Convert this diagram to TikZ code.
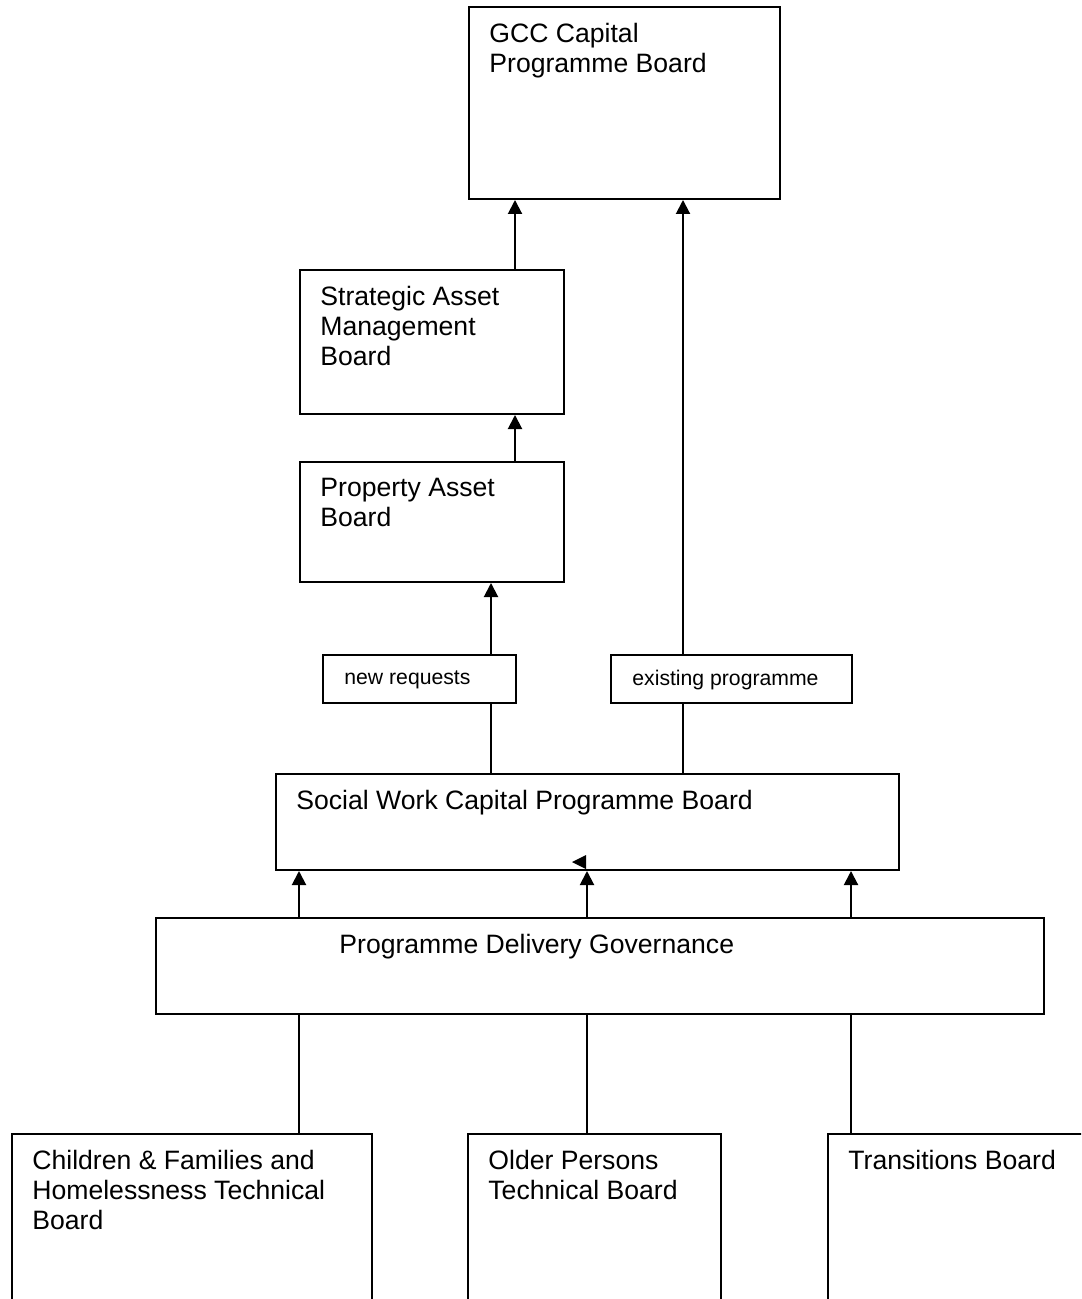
\documentclass[tikz,border=0pt]{standalone}
\usepackage{fontspec}
\setmainfont{Liberation Sans}
\usetikzlibrary{arrows.meta}
\newcommand\boardfont{\fontsize{13.3}{15}\selectfont}
\newcommand\tagfont{\fontsize{10.6}{12}\selectfont}
\tikzset{
  board/.style={draw, rectangle, line width=1pt, inner sep=0pt, anchor=north west},
  caption/.style={label={[anchor=north west, inner sep=0pt, align=left, xshift=10.5pt, yshift=-8.5pt, font=\boardfont]north west:{#1}}},
  tag/.style={draw, rectangle, line width=0.9pt, inner sep=0pt, anchor=north west, minimum width=#1, minimum height=24pt},
  tagtext/.style={label={[anchor=west, inner sep=0pt, xshift=11pt, yshift=-0.5pt, font=\tagfont]west:{#1}}},
  feed/.style={line width=1pt, -{Triangle[length=7pt, width=7pt]}},
  link/.style={line width=1pt},
}

\begin{document}
\begin{tikzpicture}[x=0.5pt, y=-0.5pt]
  \useasboundingbox (0,0) rectangle (1081,1299);
  \clip (0,0) rectangle (1081,1299);

  % Define boards
  \node[board, minimum width=155.5pt, minimum height=96pt, caption={GCC Capital\\Programme Board}] (gcc) at (468,6) {};
  \node[board, minimum width=132pt, minimum height=72pt, caption={Strategic Asset\\Management\\Board}] (sam) at (299,269) {};
  \node[board, minimum width=132pt, minimum height=60pt, caption={Property Asset\\Board}] (pab) at (299,461) {};
  \node[tag=96.5pt, tagtext={new requests}] (newreq) at (322,654) {};
  \node[tag=120.5pt, tagtext={existing programme}] (exprog) at (610,654) {};
  \node[board, minimum width=311.5pt, minimum height=48pt, caption={Social Work Capital Programme Board}] (swcpb) at (275,773) {};
  \node[board, minimum width=444pt, minimum height=48pt,
    label={[anchor=north west, inner sep=0pt, xshift=92pt, yshift=-8.5pt, font=\boardfont]north west:{Programme Delivery Governance}}] (pdg) at (155,917) {};
  \node[board, minimum width=180pt, minimum height=93.5pt, caption={Children \& Families and\\Homelessness Technical\\Board}] (cfh) at (11,1133) {};
  \node[board, minimum width=126.5pt, minimum height=93.5pt, caption={Older Persons\\Technical Board}] (opt) at (467,1133) {};
  \node[board, minimum width=136.5pt, minimum height=93.5pt, caption={Transitions Board}] (trb) at (827,1133) {};

  % Define columns
  \coordinate (colA) at (515,0);
  \coordinate (colB) at (683,0);
  \coordinate (colC) at (491,0);
  \coordinate (colD) at (299,0);
  \coordinate (colE) at (587,0);
  \coordinate (colF) at (851,0);

  % Draw connectors
  \draw[feed] (sam.north -| colA) -- (gcc.south -| colA);
  \draw[feed] (exprog.north -| colB) -- (gcc.south -| colB);
  \draw[feed] (pab.north -| colA) -- (sam.south -| colA);
  \draw[feed] (newreq.north -| colC) -- (pab.south -| colC);
  \draw[link] (swcpb.north -| colC) -- (newreq.south -| colC);
  \draw[link] (swcpb.north -| colB) -- (exprog.south -| colB);
  \draw[feed] (pdg.north -| colD) -- (swcpb.south -| colD);
  \draw[feed] (pdg.north -| colE) -- (swcpb.south -| colE);
  \draw[feed] (pdg.north -| colF) -- (swcpb.south -| colF);
  \draw[link] (cfh.north -| colD) -- (pdg.south -| colD);
  \draw[link] (opt.north -| colE) -- (pdg.south -| colE);
  \draw[link] (trb.north -| colF) -- (pdg.south -| colF);

  % Stray arrowhead
  \fill (586,855) -- (572,862) -- (586,869) -- cycle;
\end{tikzpicture}
\end{document}
